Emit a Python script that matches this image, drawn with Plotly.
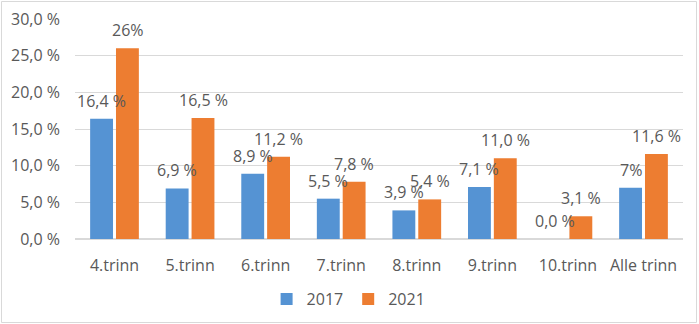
import plotly.graph_objects as go

categories = ["4.trinn", "5.trinn", "6.trinn", "7.trinn", "8.trinn", "9.trinn", "10.trinn", "Alle trinn"]
values_2017 = [16.4, 6.9, 8.9, 5.5, 3.9, 7.1, 0.0, 7.0]
values_2021 = [26.0, 16.5, 11.2, 7.8, 5.4, 11.0, 3.1, 11.6]
labels_2017 = ["16,4 %", "6,9 %", "8,9 %", "5,5 %", "3,9 %", "7,1 %", "0,0 %", "7%"]
labels_2021 = ["26%", "16,5 %", "11,2 %", "7,8 %", "5,4 %", "11,0 %", "3,1 %", "11,6 %"]
y_tickvals = [0, 5, 10, 15, 20, 25, 30]
y_ticktext = ["0,0 %", "5,0 %", "10,0 %", "15,0 %", "20,0 %", "25,0 %", "30,0 %"]

FONT = "Open Sans"
TXT = "#595959"
BLUE = "#5593d3"
ORANGE = "#ed7d31"
FS = 16

W, H = 699, 324
ML, MR, MT, MB = 75, 16, 19, 85
PW, PH = W - ML - MR, H - MT - MB

fig = go.Figure()
fig.add_trace(go.Bar(name="2017", x=categories, y=values_2017, marker=dict(color=BLUE, line=dict(width=0))))
fig.add_trace(go.Bar(name="2021", x=categories, y=values_2021, marker=dict(color=ORANGE, line=dict(width=0))))

annotations = []
for cat, v, lab in zip(categories, values_2017, labels_2017):
    annotations.append(dict(x=cat, y=v, text=lab, showarrow=False, xshift=-13, yshift=18,
                            yanchor="middle", font=dict(family=FONT, size=FS, color=TXT)))
for cat, v, lab in zip(categories, values_2021, labels_2021):
    annotations.append(dict(x=cat, y=v, text=lab, showarrow=False, xshift=13, yshift=18,
                            yanchor="middle", font=dict(family=FONT, size=FS, color=TXT)))

fig.update_layout(
    width=W, height=H,
    margin=dict(l=ML, r=MR, t=MT, b=MB, autoexpand=False),
    paper_bgcolor="white", plot_bgcolor="white",
    barmode="group", bargap=0.316, bargroupgap=0.115,
    font=dict(family=FONT, size=FS, color=TXT),
    showlegend=True,
    legend=dict(orientation="h", x=0.45, xanchor="center", y=-0.273, yanchor="middle",
                font=dict(family=FONT, size=FS, color=TXT), itemwidth=30, traceorder="normal"),
    annotations=annotations,
    shapes=[dict(type="rect", xref="paper", yref="paper",
                 x0=-(ML - 1.5) / PW, x1=1 + (MR - 2.5) / PW,
                 y0=-(MB - 1.5) / PH, y1=1 + (MT - 1.5) / PH,
                 line=dict(color="#d9d9d9", width=1), fillcolor="rgba(0,0,0,0)", layer="below")],
)
fig.update_xaxes(showgrid=False, showline=True, linecolor="#d9d9d9", linewidth=1, automargin=False,
                 tickfont=dict(family=FONT, size=FS, color=TXT), ticklabelstandoff=12)
fig.update_yaxes(range=[0, 30], tickvals=y_tickvals, ticktext=y_ticktext, showgrid=True, automargin=False,
                 gridcolor="#d9d9d9", gridwidth=1, zeroline=True, zerolinecolor="#d9d9d9",
                 showline=False, tickfont=dict(family=FONT, size=FS, color=TXT), ticklabelstandoff=14)

fig.write_html("out.html")
